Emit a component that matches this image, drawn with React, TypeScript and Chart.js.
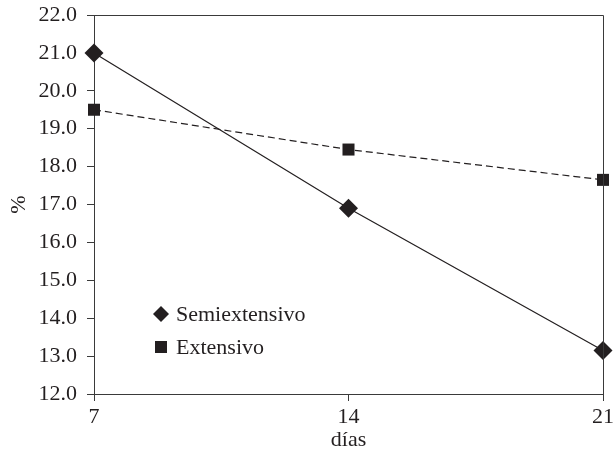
import React, { useEffect, useRef } from "react";
import { Chart, registerables } from "chart.js";

Chart.register(...registerables);

const days = [7, 14, 21];
const semiextensivo = [21.0, 16.9, 13.15];
const extensivo = [19.5, 18.45, 17.65];
const seriesNames = ["Semiextensivo", "Extensivo"];
const xTitle = "días";
const yTitle = "%";

const FONT = "'Liberation Serif', serif";
const INK = "#231f20";
const AXIS = "#3a3a3a";

const frameAndLegend = {
  id: "frameAndLegend",
  afterDatasetsDraw(chart: any) {
    const { ctx, chartArea } = chart;
    ctx.save();
    ctx.strokeStyle = AXIS;
    ctx.lineWidth = 1;
    ctx.beginPath();
    ctx.moveTo(chartArea.left, chartArea.top + 0.5);
    ctx.lineTo(chartArea.right + 0.5, chartArea.top + 0.5);
    ctx.lineTo(chartArea.right + 0.5, chartArea.bottom);
    ctx.stroke();

    const lx = chartArea.left + 67;
    const ly = chartArea.top + 299;
    const gap = 33;
    ctx.fillStyle = INK;
    chart.data.datasets.forEach((ds: any, i: number) => {
      const cy = ly + i * gap;
      ctx.beginPath();
      if (ds.pointStyle === "rectRot") {
        const r = 8;
        ctx.moveTo(lx, cy - r);
        ctx.lineTo(lx + r, cy);
        ctx.lineTo(lx, cy + r);
        ctx.lineTo(lx - r, cy);
        ctx.closePath();
      } else {
        ctx.rect(lx - 6, cy - 6, 12, 12);
      }
      ctx.fill();
      ctx.font = `22px ${FONT}`;
      ctx.textBaseline = "middle";
      ctx.textAlign = "left";
      ctx.fillText(ds.label, lx + 15, cy + 1);
    });
    ctx.restore();
  },
};

export default function App() {
  const ref = useRef<HTMLCanvasElement>(null);
  useEffect(() => {
    if (!ref.current) return;
    let chart: any = null;
    let cancelled = false;
    const build = () => {
      if (cancelled || !ref.current) return;
      chart = new Chart(ref.current, {
        type: "scatter",
        data: {
          datasets: [
            {
              label: seriesNames[0],
              data: days.map((d, i) => ({ x: d, y: semiextensivo[i] })),
              showLine: true,
              borderColor: INK,
              backgroundColor: INK,
              borderWidth: 1.2,
              pointStyle: "rectRot",
              pointRadius: 9.5,
              pointBorderWidth: 0,
            },
            {
              label: seriesNames[1],
              data: days.map((d, i) => ({ x: d, y: extensivo[i] })),
              showLine: true,
              borderColor: INK,
              backgroundColor: INK,
              borderWidth: 1.2,
              borderDash: [7, 4],
              pointStyle: "rect",
              pointRadius: 8.5,
              pointBorderWidth: 0,
            },
          ],
        },
        options: {
          responsive: false,
          animation: false,
          clip: false,
          layout: { padding: { left: 0, right: 10, top: 15, bottom: 0 } },
          plugins: { legend: { display: false }, tooltip: { enabled: false } },
          scales: {
            x: {
              type: "linear",
              min: 7,
              max: 21,
              afterBuildTicks: (s: any) => {
                s.ticks = days.map((d) => ({ value: d }));
              },
              afterFit: (s: any) => {
                s.height = 65;
                s.paddingLeft = 0;
                s.paddingRight = 0;
              },
              grid: { drawOnChartArea: false, drawTicks: true, tickLength: 7, color: AXIS },
              border: { color: AXIS, width: 1 },
              ticks: { color: INK, font: { family: FONT, size: 22 }, padding: 3 },
              title: { display: true, text: xTitle, color: INK, font: { family: FONT, size: 22 }, padding: { top: 0, bottom: 6 } },
            },
            y: {
              min: 12,
              max: 22,
              afterFit: (s: any) => {
                s.width = 94;
                s.paddingTop = 0;
                s.paddingBottom = 0;
              },
              ticks: {
                stepSize: 1,
                color: INK,
                font: { family: FONT, size: 22 },
                padding: 10,
                callback: (v: any) => Number(v).toFixed(1),
              },
              grid: { drawOnChartArea: false, drawTicks: true, tickLength: 7, color: AXIS },
              border: { color: AXIS, width: 1 },
              title: { display: true, text: yTitle, color: INK, font: { family: FONT, size: 22 }, padding: { top: 6, bottom: 0 } },
            },
          },
        },
        plugins: [frameAndLegend],
      });
    };
    const fontsApi: any = (document as any).fonts;
    if (fontsApi && fontsApi.load) {
      fontsApi
        .load("22px 'Liberation Serif'")
        .catch(() => null)
        .then(build);
    } else {
      build();
    }
    return () => {
      cancelled = true;
      if (chart) chart.destroy();
    };
  }, []);
  return (
    <div style={{ position: "fixed", left: 0, top: 0, width: 613, height: 459, background: "#fff" }}>
      <canvas ref={ref} width={613} height={459} />
    </div>
  );
}
